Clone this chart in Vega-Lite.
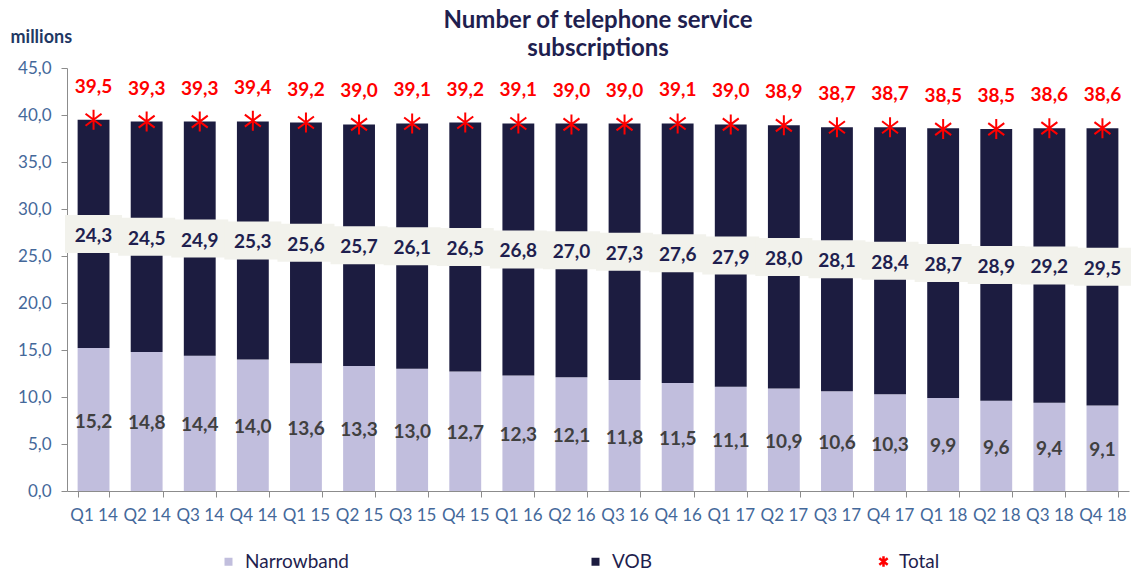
{
  "$schema": "https://vega.github.io/schema/vega-lite/v6.json",
  "width": 1062,
  "height": 423,
  "autosize": "none",
  "padding": {"left": 67, "top": 68, "right": 2, "bottom": 86},
  "title": {
    "text": ["Number of  telephone service", "subscriptions"],
    "fontSize": 24,
    "font": "Lato",
    "fontWeight": "bold",
    "color": "#1F1F4F",
    "anchor": "middle",
    "lineHeight": 28,
    "offset": -33
  },
  "config": {
    "locale": {"number": {"decimal": ",", "thousands": ".", "grouping": [3], "currency": ["", " €"]}},
    "view": {"stroke": null},
    "font": "Lato"
  },
  "data": {
    "values": [
      {"q": "Q1 14", "Narrowband": 15.2, "VOB": 24.3, "Total": 39.5},
      {"q": "Q2 14", "Narrowband": 14.8, "VOB": 24.5, "Total": 39.3},
      {"q": "Q3 14", "Narrowband": 14.4, "VOB": 24.9, "Total": 39.3},
      {"q": "Q4 14", "Narrowband": 14.0, "VOB": 25.3, "Total": 39.4},
      {"q": "Q1 15", "Narrowband": 13.6, "VOB": 25.6, "Total": 39.2},
      {"q": "Q2 15", "Narrowband": 13.3, "VOB": 25.7, "Total": 39.0},
      {"q": "Q3 15", "Narrowband": 13.0, "VOB": 26.1, "Total": 39.1},
      {"q": "Q4 15", "Narrowband": 12.7, "VOB": 26.5, "Total": 39.2},
      {"q": "Q1 16", "Narrowband": 12.3, "VOB": 26.8, "Total": 39.1},
      {"q": "Q2 16", "Narrowband": 12.1, "VOB": 27.0, "Total": 39.0},
      {"q": "Q3 16", "Narrowband": 11.8, "VOB": 27.3, "Total": 39.0},
      {"q": "Q4 16", "Narrowband": 11.5, "VOB": 27.6, "Total": 39.1},
      {"q": "Q1 17", "Narrowband": 11.1, "VOB": 27.9, "Total": 39.0},
      {"q": "Q2 17", "Narrowband": 10.9, "VOB": 28.0, "Total": 38.9},
      {"q": "Q3 17", "Narrowband": 10.6, "VOB": 28.1, "Total": 38.7},
      {"q": "Q4 17", "Narrowband": 10.3, "VOB": 28.4, "Total": 38.7},
      {"q": "Q1 18", "Narrowband": 9.9, "VOB": 28.7, "Total": 38.5},
      {"q": "Q2 18", "Narrowband": 9.6, "VOB": 28.9, "Total": 38.5},
      {"q": "Q3 18", "Narrowband": 9.4, "VOB": 29.2, "Total": 38.6},
      {"q": "Q4 18", "Narrowband": 9.1, "VOB": 29.5, "Total": 38.6}
    ]
  },
  "encoding": {
    "x": {
      "field": "q",
      "type": "ordinal",
      "sort": null,
      "scale": {"paddingInner": 0.4, "paddingOuter": 0.2},
      "axis": {
        "title": null,
        "labelAngle": 0,
        "labelFontSize": 17,
        "labelColor": "#44689A",
        "tickBand": "extent",
        "tickSize": 6,
        "tickColor": "#8C8C8C",
        "domainColor": "#8C8C8C",
        "labelPadding": 10
      }
    }
  },
  "layer": [
    {
      "transform": [
        {"fold": ["Narrowband", "VOB"], "as": ["series", "value"]},
        {"stack": "value", "groupby": ["q"], "sort": [{"field": "series", "order": "ascending"}], "as": ["s0", "s1"]}
      ],
      "mark": {"type": "bar"},
      "encoding": {
        "y": {
          "field": "s0",
          "type": "quantitative",
          "scale": {"domain": [0, 45], "nice": false},
          "axis": {
            "values": [0, 5, 10, 15, 20, 25, 30, 35, 40, 45],
            "format": ".1f",
            "grid": false,
            "labelFontSize": 17,
            "labelColor": "#44689A",
            "labelPadding": 10,
            "tickSize": 6,
            "tickColor": "#8C8C8C",
            "domainColor": "#8C8C8C",
            "title": "millions",
            "titleAngle": 0,
            "titleX": -57,
            "titleY": -31,
            "titleAlign": "left",
            "titleBaseline": "middle",
            "titleFontSize": 18,
            "titleFontWeight": "bold",
            "titleColor": "#1F3864"
          }
        },
        "y2": {"field": "s1"},
        "color": {
          "field": "series",
          "type": "nominal",
          "scale": {"domain": ["Narrowband", "VOB"], "range": ["#C1BEDD", "#1C1C40"]},
          "legend": {
            "title": null,
            "orient": "none",
            "direction": "horizontal",
            "legendX": 152,
            "legendY": 484,
            "padding": 0,
            "columnPadding": 237,
            "labelFontSize": 19,
            "labelColor": "#1F1F4F",
            "labelOffset": 7,
            "symbolSize": 64,
            "symbolType": "square"
          }
        }
      }
    },
    {
      "transform": [
        {"fold": ["Narrowband", "VOB"], "as": ["series", "value"]},
        {"stack": "value", "groupby": ["q"], "sort": [{"field": "series", "order": "ascending"}], "as": ["s0", "s1"]},
        {"filter": "datum.series === 'VOB'"},
        {"fold": ["s0", "s1"], "as": ["edge", "pos"]},
        {"aggregate": [{"op": "mean", "field": "pos", "as": "mid"}], "groupby": ["q", "value"]}
      ],
      "mark": {"type": "tick", "color": "#F2F2EC", "thickness": 38, "size": 57, "opacity": 1},
      "encoding": {
        "y": {"field": "mid", "type": "quantitative"}
      }
    },
    {
      "transform": [
        {"fold": ["Narrowband", "VOB"], "as": ["series", "value"]},
        {"stack": "value", "groupby": ["q"], "sort": [{"field": "series", "order": "ascending"}], "as": ["s0", "s1"]},
        {"fold": ["s0", "s1"], "as": ["edge", "pos"]},
        {"aggregate": [{"op": "mean", "field": "pos", "as": "mid"}], "groupby": ["q", "series", "value"]}
      ],
      "mark": {"type": "text", "fontSize": 19, "fontWeight": "bold", "baseline": "middle", "dy": 2},
      "encoding": {
        "y": {"field": "mid", "type": "quantitative"},
        "text": {"field": "value", "type": "quantitative", "format": ".1f"},
        "color": {"condition": {"test": "datum.series === 'VOB'", "value": "#1F1F4F"}, "value": "#404040"}
      }
    },
    {
      "mark": {"type": "point", "filled": false, "size": 400, "strokeWidth": 2, "opacity": 1, "color": "#FF0000"},
      "encoding": {
        "y": {"field": "Total", "type": "quantitative"},
        "shape": {
          "datum": "Total",
          "scale": {"domain": ["Total"], "range": ["M0,-1L0,1M-0.8,-0.6L0.8,0.6M-0.8,0.6L0.8,-0.6"]},
          "legend": {
            "title": null,
            "orient": "none",
            "legendX": 807,
            "legendY": 484,
            "padding": 0,
            "labelFontSize": 19,
            "labelColor": "#1F1F4F",
            "labelOffset": 6,
            "symbolSize": 110,
            "symbolStrokeWidth": 2.5,
            "symbolStrokeColor": "#FF0000",
            "symbolFillColor": "transparent",
            "symbolOpacity": 1
          }
        }
      }
    },
    {
      "mark": {"type": "text", "fontSize": 19, "fontWeight": "bold", "baseline": "middle", "dy": -33, "color": "#FF0000"},
      "encoding": {
        "y": {"field": "Total", "type": "quantitative"},
        "text": {"field": "Total", "type": "quantitative", "format": ".1f"}
      }
    }
  ]
}
